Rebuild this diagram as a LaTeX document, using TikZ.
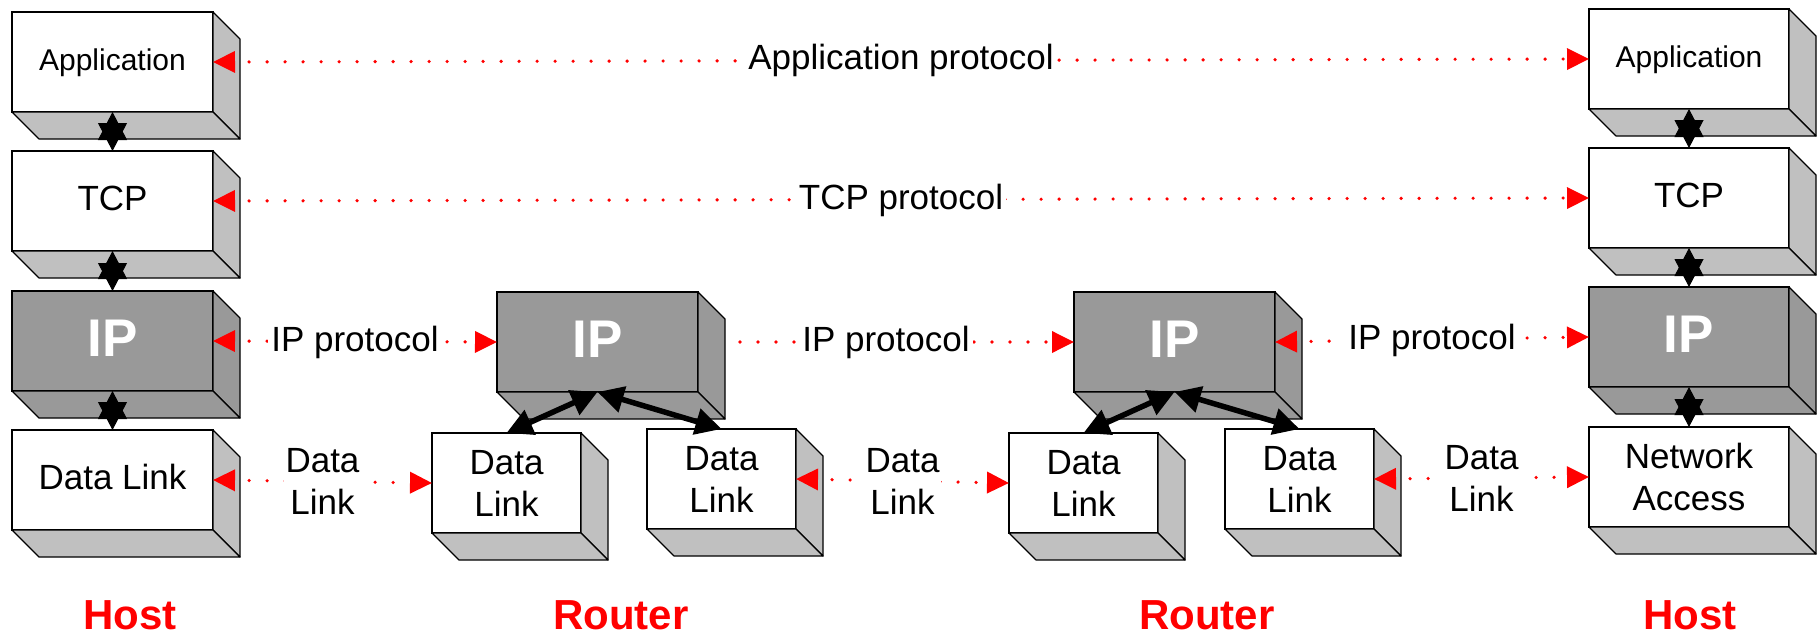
\documentclass[tikz,border=0pt]{standalone}
\usepackage{fontspec}
\setmainfont{Liberation Sans}
\usetikzlibrary{arrows.meta}
\definecolor{sidegray}{HTML}{C0C0C0}
\definecolor{ipgray}{HTML}{999999}
\definecolor{pred}{HTML}{FF0000}
\newcommand\extrude[2]{%
  \filldraw[face, fill=#2] (#1.north east) -- ([shift={(27,27)}]#1.north east) -- ([shift={(27,27)}]#1.south east) -- (#1.south east) -- cycle;
  \filldraw[face, fill=#2] (#1.south west) -- ([shift={(27,27)}]#1.south west) -- ([shift={(27,27)}]#1.south east) -- (#1.south east) -- cycle;
}
\tikzset{
  front/.style={draw=black, line width=1.2pt, fill=white, inner sep=0pt, outer sep=0pt, minimum height=100pt},
  ipbox/.style={front, fill=ipgray, text=white, font=\fontsize{53}{60}\selectfont\bfseries, text height=42pt, text depth=11pt},
  tthirty/.style={font=\fontsize{30}{36}\selectfont, text height=23.2pt, text depth=6.8pt},
  tfive/.style={font=\fontsize{35}{42}\selectfont, text height=27pt, text depth=8pt},
  ttwo/.style={font=\fontsize{35}{42}\selectfont, align=center},
  face/.style={draw=black, line width=1.2pt, line join=round},
  redtip/.tip={Triangle[length=22pt,width=21pt]},
  proto/.style={pred, line width=3.6pt, line cap=round, dash pattern=on 0pt off 18pt, dash phase=3pt},
  lbl/.style={fill=white, text=black, inner sep=3pt, tfive},
  lbltwo/.style={fill=white, text=black, inner sep=2pt, ttwo},
  vstar/.style={black, line width=1pt, {Triangle[length=28pt,width=29pt]}-{Triangle[length=28pt,width=29pt]}},
  rarrow/.style={black, line width=5.5pt, {Triangle[length=26pt,width=26pt]}-{Triangle[length=26pt,width=26pt]}},
  hostlbl/.style={text=pred, font=\fontsize{42}{50}\selectfont\bfseries, anchor=base, inner sep=0pt}
}
\begin{document}
\begin{tikzpicture}[x=1pt,y=-1pt]
\useasboundingbox (0,0) rectangle (1820,634);
% left host
\node[front, minimum width=201pt, tthirty] (happ) at (112.5,62) {Application};
\extrude{happ}{sidegray}
\node[front, minimum width=201pt, tfive] (htcp) at (112.5,201) {TCP};
\extrude{htcp}{sidegray}
\node[ipbox, minimum width=201pt] (hip) at (112.5,341) {IP};
\extrude{hip}{ipgray}
\node[front, minimum width=201pt, tfive] (hdl) at (112.5,480) {Data Link};
\extrude{hdl}{sidegray}
% router 1
\node[ipbox, minimum width=201pt] (r1ip) at (597.5,342) {IP};
\extrude{r1ip}{ipgray}
\node[front, minimum width=149pt, ttwo] (r1dla) at (506.5,483) {Data\\Link};
\extrude{r1dla}{sidegray}
\node[front, minimum width=149pt, ttwo] (r1dlb) at (721.5,479) {Data\\Link};
\extrude{r1dlb}{sidegray}
% router 2
\node[ipbox, minimum width=201pt] (r2ip) at (1174.5,342) {IP};
\extrude{r2ip}{ipgray}
\node[front, minimum width=149pt, ttwo] (r2dla) at (1083.5,483) {Data\\Link};
\extrude{r2dla}{sidegray}
\node[front, minimum width=149pt, ttwo] (r2dlb) at (1299.5,479) {Data\\Link};
\extrude{r2dlb}{sidegray}
% right host
\node[front, minimum width=200pt, tthirty] (rapp) at (1689,59) {Application};
\extrude{rapp}{sidegray}
\node[front, minimum width=200pt, tfive] (rtcp) at (1689,198) {TCP};
\extrude{rtcp}{sidegray}
\node[ipbox, minimum width=200pt] (rip) at (1689,337) {IP};
\extrude{rip}{ipgray}
\node[front, minimum width=200pt, ttwo] (rna) at (1689,477) {Network\\Access};
\extrude{rna}{sidegray}
% vertical connectors
\draw[vstar] (happ.south) -- (htcp.north);
\draw[vstar] (htcp.south) -- (hip.north);
\draw[vstar] (hip.south) -- (hdl.north);
\draw[vstar] (rapp.south) -- (rtcp.north);
\draw[vstar] (rtcp.south) -- (rip.north);
\draw[vstar] (rip.south) -- (rna.north);
% router internal
\draw[rarrow] (r1ip.south) -- (r1dla.north);
\draw[rarrow] (r1ip.south) -- (r1dlb.north);
\draw[rarrow] (r2ip.south) -- (r2dla.north);
\draw[rarrow] (r2ip.south) -- (r2dlb.north);
% protocol lines
\draw[proto, redtip-redtip] (happ.east) -- (rapp.west) node[midway, lbl] {Application protocol};
\draw[proto, redtip-redtip] (htcp.east) -- (rtcp.west) node[midway, lbl] {TCP protocol};
\draw[proto, redtip-redtip] (hip.east) -- (r1ip.west) node[midway, lbl] {IP protocol};
\draw[proto, -redtip, shorten <=27pt] (r1ip.east) -- (r2ip.west) node[midway, lbl] {IP protocol};
\draw[proto, redtip-redtip] (r2ip.east) -- (rip.west) node[midway, lbl] {IP protocol};
\draw[proto, redtip-redtip] (hdl.east) -- (r1dla.west) node[midway, lbltwo] {Data\\Link};
\draw[proto, redtip-redtip] (r1dlb.east) -- (r2dla.west) node[midway, lbltwo] {Data\\Link};
\draw[proto, redtip-redtip] (r2dlb.east) -- (rna.west) node[midway, lbltwo] {Data\\Link};
% labels
\node[hostlbl] (lhost) at (130,629) {Host};
\node[hostlbl] (lrouter1) at (621,629) {Router};
\node[hostlbl] (lrouter2) at (1207,629) {Router};
\node[hostlbl] (rhost) at (1690,629) {Host};
\end{tikzpicture}
\end{document}
